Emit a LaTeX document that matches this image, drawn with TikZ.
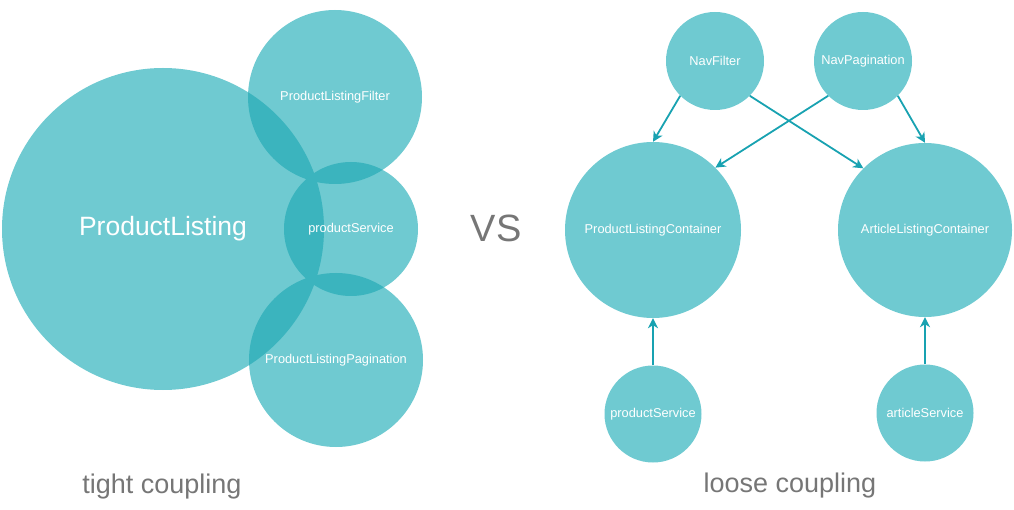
\documentclass[tikz,border=0pt]{standalone}
\usepackage{fontspec}
\setmainfont{Liberation Sans}
\usetikzlibrary{arrows.meta}
\definecolor{bubble}{HTML}{6FCAD1}
\definecolor{bubbledark}{HTML}{3BB4BE}
\definecolor{linkcol}{HTML}{18A2B1}
\definecolor{captioncol}{HTML}{767676}
\begin{document}
\begin{tikzpicture}[x=1pt, y=-1pt,
    bubble/.style={circle, fill=bubble, text=white, inner sep=0pt, font=\fontsize{12.8}{14}\selectfont},
    txt/.style={text=white, inner sep=0pt, font=\fontsize{12.8}{14}\selectfont},
    link/.style={draw=linkcol, line width=1.8pt, -{Stealth[length=10pt,width=10pt,inset=3pt]}},
    caption/.style={text=captioncol, font=\fontsize{27}{30}\selectfont}]
  \useasboundingbox (0,0) rectangle (1014,510);
  % tight coupling
  \coordinate (listingC)    at (163,229);
  \coordinate (filterC)     at (335,97);
  \coordinate (serviceC)    at (351,229);
  \coordinate (paginationC) at (336,360);
  \fill[bubble] (listingC) circle (161pt) (filterC) circle (87pt)
                (serviceC) circle (67pt) (paginationC) circle (87pt);
  \begin{scope}
    \clip (listingC) circle (161pt);
    \fill[bubbledark] (filterC) circle (87pt) (serviceC) circle (67pt) (paginationC) circle (87pt);
  \end{scope}
  \begin{scope}
    \clip (serviceC) circle (67pt);
    \fill[bubbledark] (filterC) circle (87pt) (paginationC) circle (87pt);
  \end{scope}
  \node[txt, font=\fontsize{26.5}{30}\selectfont] (productListing) at (listingC) {ProductListing};
  \node[txt] (listingFilter) at (filterC) {ProductListingFilter};
  \node[txt] (listingService) at (serviceC) {productService};
  \node[txt] (listingPagination) at (paginationC) {ProductListingPagination};
  \node[caption] (tight) at (162,487) {tight coupling};

  \node[text=captioncol, font=\fontsize{38}{40}\selectfont] (vs) at (496,228) {VS};

  % loose coupling
  \node[bubble, minimum size=98pt]  (navFilter)     at (715,61)  {NavFilter};
  \node[bubble, minimum size=98pt]  (navPagination) at (863,61)  {NavPagination};
  \node[bubble, minimum size=176pt] (plContainer)   at (653,230) {ProductListingContainer};
  \node[bubble, minimum size=174pt] (alContainer)   at (925,230) {ArticleListingContainer};
  \node[bubble, minimum size=97pt]  (productService) at (653,414) {productService};
  \node[bubble, minimum size=97pt]  (articleService) at (925,413) {articleService};
  \draw[link] (navFilter.south west) -- (plContainer.north);
  \draw[link] (navFilter.south east) -- (alContainer.north west);
  \draw[link] (navPagination.south west) -- (plContainer.north east);
  \draw[link] (navPagination.south east) -- (alContainer.north);
  \draw[link] (productService) -- (plContainer);
  \draw[link] (articleService) -- (alContainer);
  \node[caption] (loose) at (790,486) {loose coupling};
\end{tikzpicture}
\end{document}
